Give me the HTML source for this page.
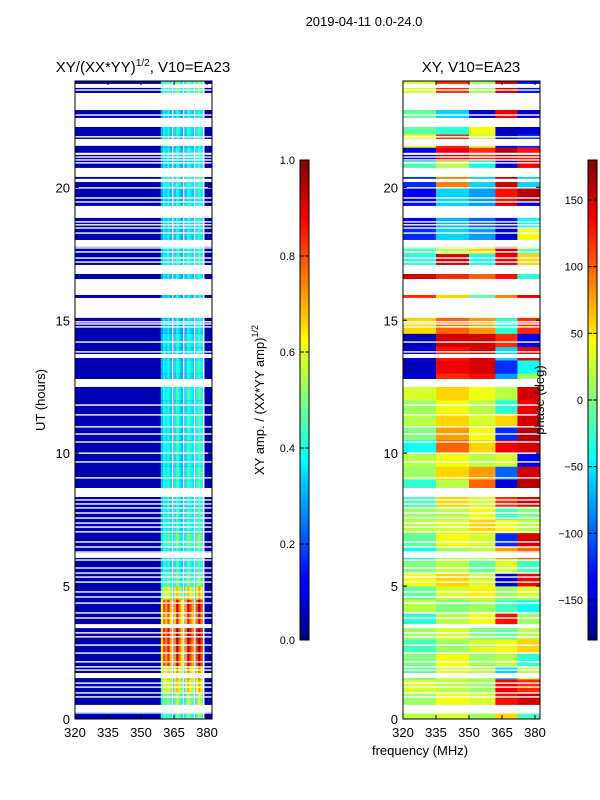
<!DOCTYPE html>
<html><head><meta charset="utf-8"><style>
html,body{margin:0;padding:0;background:#fff}
svg{display:block;font-family:"Liberation Sans","DejaVu Sans",sans-serif}
</style></head><body>
<svg id="fig" width="600" height="800" viewBox="0 0 600 800">
<defs>
<linearGradient id="jetV" x1="0" y1="1" x2="0" y2="0">
<stop offset="0" stop-color="#00007f"/><stop offset="0.11" stop-color="#0000ff"/>
<stop offset="0.125" stop-color="#0000ff"/><stop offset="0.34" stop-color="#00d4ff"/>
<stop offset="0.375" stop-color="#00ffff"/><stop offset="0.5" stop-color="#7fff7f"/>
<stop offset="0.625" stop-color="#ffff00"/><stop offset="0.66" stop-color="#ffd400"/>
<stop offset="0.875" stop-color="#ff0000"/><stop offset="1" stop-color="#7f0000"/>
</linearGradient>
</defs>
<text x="364" y="26" font-size="13" text-anchor="middle">2019-04-11 0.0-24.0</text>
<text x="143" y="72" font-size="15" text-anchor="middle">XY/(XX*YY)<tspan font-size="10" dy="-6">1/2</tspan><tspan dy="6">, V10=EA23</tspan></text>
<text x="471" y="72" font-size="15" text-anchor="middle">XY, V10=EA23</text>
<g id="leftPlot"></g>
<g id="rightPlot"></g>
<g id="axes"></g>
<text transform="translate(45,400) rotate(-90)" font-size="13" text-anchor="middle">UT (hours)</text>
<text x="420" y="755" font-size="13" text-anchor="middle">frequency (MHz)</text>
<rect x="300" y="160" width="9" height="480" fill="url(#jetV)" stroke="#000" stroke-width="1"/>
<rect x="588" y="160" width="9" height="480" fill="url(#jetV)" stroke="#000" stroke-width="1"/>
<text transform="translate(264,400) rotate(-90)" font-size="13" text-anchor="middle">XY amp. / (XX*YY amp)<tspan font-size="9" dy="-6">1/2</tspan></text>
<text transform="translate(544,400) rotate(-90)" font-size="13" text-anchor="middle">phase (deg)</text>
<g id="cbticks"></g>
</svg>
<script>
// ---- data ----
const ampRowHours = [0,0.5,1,1.5,2,2.5,3,3.5,4,4.5,5,5.5,6,6.5,7,7.5,8,8.5,9,9.5,10,10.5,11,11.5,12,12.5,13,13.5,14,14.5,15,15.5,16,16.5,17,17.5,18,18.5,19,19.5,20,20.5,21,21.5,22,22.5,23,23.5];
const ampHigh = [0.45,0.5,0.6,0.65,0.8,0.82,0.85,0.75,0.8,0.6,0.45,0.4,0.4,0.45,0.4,0.4,0.38,0.4,0.4,0.38,0.4,0.38,0.4,0.38,0.4,0.36,0.38,0.36,0.38,0.34,0.36,0.34,0.36,0.36,0.4,0.38,0.36,0.36,0.38,0.36,0.4,0.36,0.38,0.36,0.38,0.36,0.4,0.45];
const ampLow = 0.05;
const highChannels = [359,360,361,362,363,365,366,367,368,370,371,372,373,375,376,377];
const highGain = [0.8,1.0,0.9,1.05,0.85,0.9,1.15,0.95,0.8,0.9,1.15,1.0,0.9,1.0,1.2,1.0];
const flaggedChannels = [364,369,374,378];
const phaseGroupEdges = [320,335,350,362,372,383];
const phaseGrid = [
[20,30,10,60,-20],[10,40,30,130,150],[30,20,10,140,120],[-10,30,20,-60,20],
[0,40,10,20,-30],[-20,10,30,40,60],[10,30,0,-10,20],[-30,20,40,130,10],
[20,0,10,-20,-40],[-10,30,50,10,30],[40,60,30,-150,140],[0,20,-10,30,-20],
[-40,10,20,80,100],[-10,40,30,-120,150],[20,30,60,40,20],[10,20,40,-20,0],
[-20,60,30,120,150],[-30,20,100,-150,160],[10,60,80,-100,150],[20,40,20,30,-140],
[-40,100,60,140,150],[0,80,40,-120,160],[20,60,30,60,150],[10,40,20,-30,140],
[30,60,40,20,150],[-150,120,130,-80,10],[-160,140,150,-120,-40],[-150,130,150,-60,140],
[-160,150,150,120,-140],[60,100,80,-30,120],[60,100,80,-30,120],[120,60,-10,90,140],
[120,60,-10,90,140],[150,120,100,130,-30],[-30,150,-40,140,60],[-20,20,60,150,-10],
[-120,-60,-80,-150,40],[-140,-70,-100,-130,-40],[-130,-60,-80,150,-140],[-140,-60,-80,130,160],
[-120,90,-60,150,-60],[-20,20,-40,-150,140],[-140,140,120,160,130],[40,120,30,-140,-120],
[-10,-30,40,-160,-150],[-10,-60,-150,140,-150],[30,120,10,150,-130],[30,120,10,150,-130]];
const gaps = [[23.74,23.89],[22.91,23.55],[22.27,22.61],[21.56,21.82],[21.22,21.30],[20.39,20.73],[20.20,20.32],[18.85,19.30],[17.76,18.02],[16.74,17.08],[15.95,16.55],[15.09,15.84],[13.58,13.73],[12.49,12.79],[8.35,8.69],[6.06,6.25],[3.42,3.57],[1.54,1.73],[0.26,0.53]];
const thinGaps = [23.66,22.72,21.90,21.78,21.14,21.03,20.92,19.98,19.60,19.45,18.70,18.59,18.47,18.28,17.72,17.57,17.34,17.19,14.94,14.86,14.75,14.18,13.81,11.81,11.44,10.99,10.72,10.42,10.0,9.67,9.07,8.24,8.09,7.94,7.75,7.56,7.37,7.22,7.04,6.66,6.47,6.28,5.98,5.68,5.49,5.34,5.15,4.78,4.59,4.36,3.99,3.80,3.24,3.09,2.78,2.48,2.15,1.96,1.84,1.35,1.20,0.98,0.83,0.23];
const xTicks = [320,335,350,365,380];
const yTicks = [0,5,10,15,20];
const ampTicks = [0.0,0.2,0.4,0.6,0.8,1.0];
const phaseTicks = [-150,-100,-50,0,50,100,150];

// ---- scales ----
const NS='http://www.w3.org/2000/svg';
const F0=320, F1=382.27, T0=0, T1=24, PY0=81, PY1=719, PW=137;
function xs(ox,f){return ox+(f-F0)/(F1-F0)*PW;}
function ys(t){return PY1-(t-T0)/(T1-T0)*(PY1-PY0);}
function jet(v){v=Math.max(0,Math.min(1,v));
 const c=x=>Math.round(255*Math.max(0,Math.min(1,x)));
 return 'rgb('+c(1.5-Math.abs(4*v-3))+','+c(1.5-Math.abs(4*v-2))+','+c(1.5-Math.abs(4*v-1))+')';}
function mk(tag,attrs,parent){const e=document.createElementNS(NS,tag);for(const k in attrs)e.setAttribute(k,attrs[k]);parent.appendChild(e);return e;}

// ---- left heatmap ----
const L=document.getElementById('leftPlot');
ampRowHours.forEach((t,i)=>{
 const yTop=ys(t+0.5), h=ys(t)-ys(t+0.5);
 let r=mk('rect',{x:xs(75,F0),y:yTop,width:xs(75,F1)-xs(75,F0),height:h+0.3,fill:jet(ampLow)},L);
 
 
 highChannels.forEach((ch,j)=>{
  let c=mk('rect',{x:xs(75,ch),y:yTop,width:xs(75,ch+1)-xs(75,ch)+0.3,height:h+0.3,fill:jet(ampHigh[i]*highGain[j])},L);
  
  
 });
});
flaggedChannels.forEach(ch=>{
 let c=mk('rect',{x:xs(75,ch)+0.3,y:PY0,width:(xs(75,ch+1)-xs(75,ch))*0.7,height:PY1-PY0,fill:'#fff'},L);
 
 
});

// ---- right heatmap ----
const R=document.getElementById('rightPlot');
phaseGrid.forEach((row,i)=>{
 const t=ampRowHours[i], yTop=ys(t+0.5), h=ys(t)-ys(t+0.5);
 row.forEach((ph,g)=>{
  const f0=phaseGroupEdges[g], f1=Math.min(phaseGroupEdges[g+1],F1);
  let c=mk('rect',{x:xs(403,f0),y:yTop,width:xs(403,f1)-xs(403,f0)+0.3,height:h+0.3,fill:jet((ph+180)/360)},R);
  
  
 });
});

// ---- gaps (both panels) ----
[[75,L],[403,R]].forEach(([ox,G])=>{
 gaps.forEach(([a,b])=>{
  let g=mk('rect',{x:ox,y:ys(b),width:PW,height:ys(a)-ys(b),fill:'#fff'},G);
  
  
 });
 thinGaps.forEach(t=>{
  let g=mk('rect',{x:ox,y:ys(t)-0.7,width:PW,height:1.4,fill:'#fff'},G);
  
  
 });
});

// ---- axes ----
const A=document.getElementById('axes');
[75,403].forEach((ox,pi)=>{
 let fr=mk('rect',{x:ox,y:PY0,width:PW,height:PY1-PY0,fill:'none',stroke:'#000','stroke-width':1},A);
 
 
 xTicks.forEach(f=>{
  const x=xs(ox,f);
  mk('line',{x1:x,y1:PY1,x2:x,y2:PY1-4,stroke:'#000'},A);
  mk('line',{x1:x,y1:PY0,x2:x,y2:PY0+4,stroke:'#000'},A);
  let tx=mk('text',{x:x,y:737,'font-size':13,'text-anchor':'middle'},A);
  tx.textContent=f;
  
  
 });
 yTicks.forEach(t=>{
  const y=ys(t);
  mk('line',{x1:ox,y1:y,x2:ox+4,y2:y,stroke:'#000'},A);
  mk('line',{x1:ox+PW,y1:y,x2:ox+PW-4,y2:y,stroke:'#000'},A);
  let tx=mk('text',{x:ox-5,y:y+5,'font-size':13,'text-anchor':'end'},A);
  tx.textContent=t;
  
  
 });
});

// ---- colorbar ticks ----
const C=document.getElementById('cbticks');
ampTicks.forEach(v=>{
 const y=640-v*480;
 mk('line',{x1:300,y1:y,x2:304,y2:y,stroke:'#000'},C);
 mk('line',{x1:309,y1:y,x2:305,y2:y,stroke:'#000'},C);
 let tx=mk('text',{x:295,y:y+4,'font-size':11,'text-anchor':'end'},C);
 tx.textContent=v.toFixed(1);
 
 
});
phaseTicks.forEach(v=>{
 const y=400-v*(480/360);
 mk('line',{x1:588,y1:y,x2:592,y2:y,stroke:'#000'},C);
 mk('line',{x1:597,y1:y,x2:593,y2:y,stroke:'#000'},C);
 let tx=mk('text',{x:583,y:y+4,'font-size':11,'text-anchor':'end'},C);
 tx.textContent=v<0?'\u2212'+Math.abs(v):v;
 
 
});
</script>
</body></html>
